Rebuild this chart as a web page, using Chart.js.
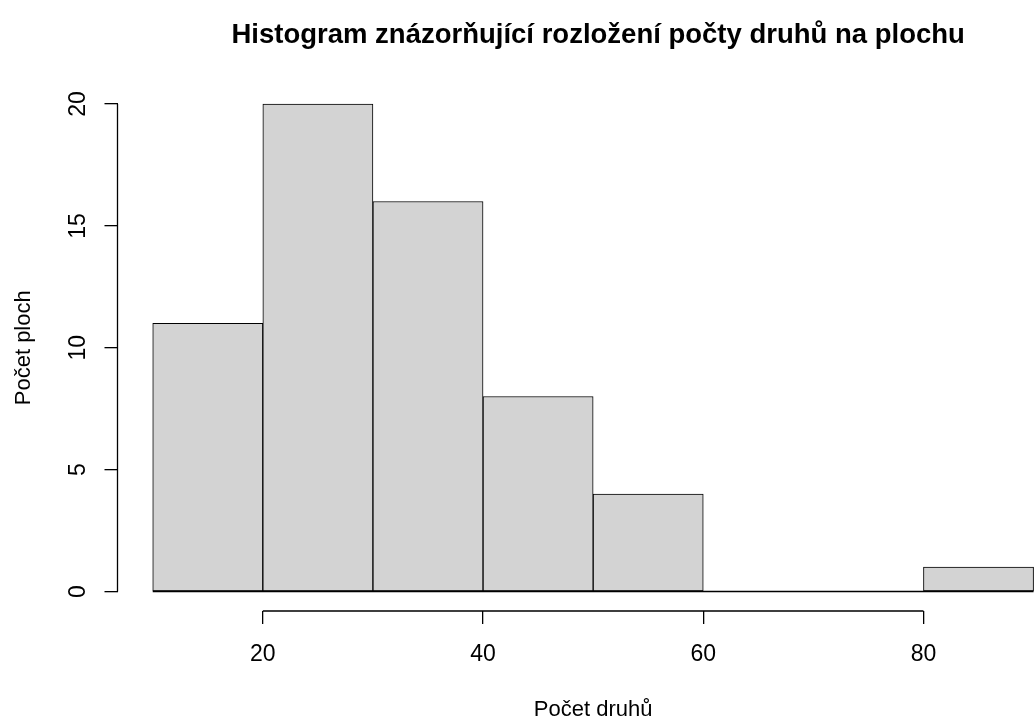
<!DOCTYPE html>
<html>
<head>
<meta charset="utf-8">
<script src="https://cdn.jsdelivr.net/npm/chart.js@4.4.0/dist/chart.umd.min.js"></script>
<style>
  html, body { margin: 0; padding: 0; background: #ffffff; }
  #wrap { width: 1035px; height: 722px; }
</style>
</head>
<body>
<div id="wrap"><canvas id="histChart" width="1035" height="722"></canvas></div>
<script>
// histogram bins and counts
const breaks = [10, 20, 30, 40, 50, 60, 70, 80, 90];
const counts = [11, 20, 16, 8, 4, 0, 0, 1];
const xTicks = [20, 40, 60, 80];
const yTicks = [0, 5, 10, 15, 20];
const mainTitle = "Histogram znázorňující rozložení počty druhů na plochu";
const xTitle = "Počet druhů";
const yTitle = "Počet ploch";

const FONT = '"Liberation Sans", Arial, Helvetica, sans-serif';

const bars = counts.map((c, i) => ({ x: (breaks[i] + breaks[i + 1]) / 2, y: c }));
const baseline = [
  { x: breaks[0], y: 0 },
  { x: breaks[breaks.length - 1], y: 0 },
];

// R style axes: lines only between first and last tick, rotated y labels
const rAxes = {
  id: "rAxes",
  afterDraw(chart) {
    const ctx = chart.ctx;
    const xs = chart.scales.x;
    const ys = chart.scales.y;
    const area = chart.chartArea;
    ctx.save();
    ctx.strokeStyle = "#000";
    ctx.lineWidth = 1.3;
    ctx.beginPath();
    ctx.moveTo(xs.getPixelForValue(xTicks[0]), area.bottom);
    ctx.lineTo(xs.getPixelForValue(xTicks[xTicks.length - 1]), area.bottom);
    ctx.moveTo(area.left, ys.getPixelForValue(yTicks[0]));
    ctx.lineTo(area.left, ys.getPixelForValue(yTicks[yTicks.length - 1]));
    ctx.stroke();

    ctx.fillStyle = "#000";
    ctx.textAlign = "center";
    ctx.textBaseline = "alphabetic";
    ctx.font = "23px " + FONT;
    yTicks.forEach((v) => {
      ctx.save();
      ctx.translate(area.left - 33, ys.getPixelForValue(v));
      ctx.rotate(-Math.PI / 2);
      ctx.fillText(String(v), 0, 0);
      ctx.restore();
    });

    ctx.font = "22px " + FONT;
    const midX = xs.getPixelForValue((breaks[0] + breaks[breaks.length - 1]) / 2);
    const midY = (area.top + area.bottom) / 2;
    ctx.fillText(xTitle, midX, 716);
    ctx.save();
    ctx.translate(30, midY);
    ctx.rotate(-Math.PI / 2);
    ctx.fillText(yTitle, 0, 0);
    ctx.restore();

    ctx.font = "bold 27.5px " + FONT;
    ctx.fillText(mainTitle, midX + 5, 43);
    ctx.restore();
  },
};

const ctx = document.getElementById("histChart");

const histChart = new Chart(ctx, {
  type: "bar",
  data: {
    datasets: [
      {
        type: "line",
        data: baseline,
        borderColor: "#000",
        borderWidth: 1.3,
        pointRadius: 0,
        order: 0,
      },
      {
        type: "bar",
        data: bars,
        backgroundColor: "#D3D3D3",
        borderColor: "#000",
        borderWidth: 1,
        borderSkipped: false,
        barPercentage: 1,
        categoryPercentage: 1,
        order: 1,
      },
    ],
  },
  options: {
    responsive: false,
    animation: false,
    devicePixelRatio: 1,
    layout: { padding: { top: 84.5, left: 0, right: 0, bottom: 0 } },
    plugins: {
      legend: { display: false },
      tooltip: { enabled: false },
      title: { display: false },
    },
    scales: {
      x: {
        type: "linear",
        min: 6.8,
        max: 90.13,
        offset: false,
        afterBuildTicks: (s) => {
          s.ticks = xTicks.map((v) => ({ value: v }));
        },
        afterFit: (s) => {
          s.height = 111;
        },
        border: { display: false },
        grid: { drawOnChartArea: false, offset: false, tickLength: 13, color: "#000", lineWidth: 1.3 },
        ticks: {
          color: "#000",
          font: { family: FONT, size: 23 },
          padding: 17,
          maxRotation: 0,
          autoSkip: false,
        },
      },
      y: {
        type: "linear",
        min: -0.8,
        max: 20.8,
        afterBuildTicks: (s) => {
          s.ticks = yTicks.map((v) => ({ value: v }));
        },
        afterFit: (s) => {
          s.width = 117.5;
        },
        border: { display: false },
        grid: { drawOnChartArea: false, tickLength: 13, color: "#000", lineWidth: 1.3 },
        ticks: { display: false },
      },
    },
  },
  plugins: [rAxes],
});
</script>
</body>
</html>
